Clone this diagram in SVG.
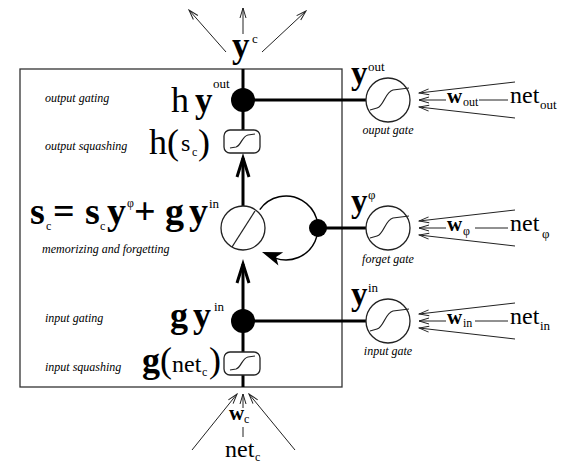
<svg xmlns="http://www.w3.org/2000/svg" width="563" height="469" viewBox="0 0 563 469">
<defs>
<style>
.t{font-family:"Liberation Serif","Times New Roman",serif;fill:#000}
.b{font-weight:bold}
.lab{font-family:"Liberation Serif","Times New Roman",serif;font-style:italic;font-size:12px;fill:#000}
.thin{stroke:#222;stroke-width:1;fill:none}
.thick{stroke:#000;stroke-width:3;fill:none}
.ol{stroke:#222;stroke-width:1.3;fill:#fff}
.sig{stroke:#222;stroke-width:1.2;fill:none}
</style>
<marker id="open" markerWidth="12" markerHeight="8" refX="11" refY="4" orient="auto" markerUnits="userSpaceOnUse">
<path d="M1,1 L11,4 L1,7" fill="none" stroke="#222" stroke-width="1"/>
</marker>
</defs>
<rect width="563" height="469" fill="#fff"/>

<g id="cell-box">
<rect x="20" y="69" width="322" height="318" fill="none" stroke="#333" stroke-width="1.3"/>
</g>

<g id="connectors">
<line class="thick" x1="243" y1="69" x2="243" y2="130"/>
<line class="thick" x1="243" y1="158" x2="243" y2="206"/>
<path class="thick" d="M237,177 L243,158 L249,177" stroke-width="2.5"/>
<line class="thick" x1="243" y1="264" x2="243" y2="352"/>
<path class="thick" d="M237,283 L243,264 L249,283" stroke-width="2.5"/>
<line class="thick" x1="243" y1="375" x2="243" y2="387"/>
<line class="thick" x1="243" y1="100" x2="366" y2="100"/>
<line class="thick" x1="318" y1="228" x2="366" y2="228"/>
<line class="thick" x1="243" y1="321" x2="366" y2="321"/>
<path d="M259.8,209.6 A32,32 0 1 1 275.1,258.1" fill="none" stroke="#000" stroke-width="1.5"/>
<path d="M262,252 L283.2,252.2 L276.1,257.1 L278.4,265.4 Z" fill="#000"/>
<line class="thin" x1="243" y1="34" x2="243" y2="8" marker-end="url(#open)"/>
<line class="thin" x1="226" y1="52" x2="189" y2="10" marker-end="url(#open)"/>
<line class="thin" x1="262" y1="52" x2="306" y2="11" marker-end="url(#open)"/>
<line class="thin" x1="243" y1="408" x2="243" y2="394" marker-end="url(#open)"/>
<line class="thin" x1="192" y1="450" x2="237" y2="394" marker-end="url(#open)"/>
<line class="thin" x1="295" y1="450" x2="249" y2="394" marker-end="url(#open)"/>
<line class="thin" x1="243" y1="427" x2="243" y2="437"/>
<line class="thin" x1="515" y1="82" x2="419" y2="93" marker-end="url(#open)"/>
<line class="thin" x1="446" y1="100" x2="419" y2="100" marker-end="url(#open)"/>
<line class="thin" x1="479" y1="100" x2="508" y2="100"/>
<line class="thin" x1="515" y1="118" x2="419" y2="107" marker-end="url(#open)"/>
<line class="thin" x1="515" y1="210" x2="419" y2="221" marker-end="url(#open)"/>
<line class="thin" x1="446" y1="228" x2="419" y2="228" marker-end="url(#open)"/>
<line class="thin" x1="475" y1="228" x2="508" y2="228"/>
<line class="thin" x1="515" y1="246" x2="419" y2="235" marker-end="url(#open)"/>
<line class="thin" x1="515" y1="303" x2="419" y2="314" marker-end="url(#open)"/>
<line class="thin" x1="446" y1="321" x2="419" y2="321" marker-end="url(#open)"/>
<line class="thin" x1="475" y1="321" x2="508" y2="321"/>
<line class="thin" x1="515" y1="339" x2="419" y2="328" marker-end="url(#open)"/>
</g>

<g id="output-gating">
<circle cx="243" cy="100" r="12" fill="#000"/>
<text class="t" x="171" y="112" font-size="36">h</text>
<text class="t b" x="195" y="112" font-size="35">y</text>
<text class="t" x="213" y="88" font-size="13">out</text>
<text class="lab" x="45" y="102">output gating</text>
</g>

<g id="output-squashing">
<rect class="ol" x="224" y="130" width="36" height="23" rx="6"/>
<path class="sig" d="M230,148 L236,147 C241,146 242,136 248,135 L255,134"/>
<text class="t" x="149" y="154" font-size="36">h(</text>
<text class="t" x="181" y="151" font-size="24">s</text>
<text class="t" x="192" y="156" font-size="12">c</text>
<text class="t" x="198" y="154" font-size="36">)</text>
<text class="lab" x="45" y="150">output squashing</text>
</g>

<g id="memory">
<circle class="ol" cx="243" cy="228" r="22"/>
<line x1="232" y1="247" x2="255" y2="211" stroke="#222" stroke-width="1.3"/>
<circle cx="318" cy="228" r="9" fill="#000"/>
<text class="t b" x="30" y="224" font-size="38">s</text>
<text class="t" x="46" y="230" font-size="12">c</text>
<text class="t b" x="53" y="224" font-size="38">=</text>
<text class="t b" x="85" y="224" font-size="38">s</text>
<text class="t" x="100" y="230" font-size="12">c</text>
<text class="t b" x="107" y="224" font-size="38">y</text>
<text class="t" x="127" y="207" font-size="12">φ</text>
<text class="t b" x="134" y="224" font-size="38">+</text>
<text class="t b" x="165" y="224" font-size="38">g</text>
<text class="t b" x="189" y="224" font-size="38">y</text>
<text class="t" x="209" y="208" font-size="13">in</text>
<text class="lab" x="42" y="253">memorizing and forgetting</text>
</g>

<g id="input-gating">
<circle cx="243" cy="321" r="12" fill="#000"/>
<text class="t b" x="170" y="327" font-size="36">g</text>
<text class="t b" x="193" y="327" font-size="36">y</text>
<text class="t" x="214" y="311" font-size="13">in</text>
<text class="lab" x="45" y="322">input gating</text>
</g>

<g id="input-squashing">
<rect class="ol" x="224" y="352" width="36" height="23" rx="6"/>
<path class="sig" d="M230,370 L236,369 C241,368 242,358 248,357 L255,356"/>
<text class="t b" x="142" y="372" font-size="36">g</text>
<text class="t" x="160" y="372" font-size="36">(</text>
<text class="t" x="172" y="372" font-size="24">net</text>
<text class="t" x="202" y="376" font-size="12">c</text>
<text class="t" x="209" y="372" font-size="36">)</text>
<text class="lab" x="45" y="371">input squashing</text>
</g>

<g id="cell-output">
<text class="t b" x="232" y="57" font-size="35">y</text>
<text class="t" x="252" y="43" font-size="13">c</text>
</g>

<g id="cell-input">
<text class="t b" x="229" y="420" font-size="21">w</text>
<text class="t" x="244" y="423" font-size="12">c</text>
<text class="t" x="225" y="457" font-size="24">net</text>
<text class="t" x="255" y="461" font-size="12">c</text>
</g>

<g id="output-gate">
<circle class="ol" cx="388" cy="100" r="22"/>
<path class="sig" d="M370,110 L377,108 C384,106 385,92 393,90 L409,88"/>
<text class="t b" x="351" y="84" font-size="33">y</text>
<text class="t" x="368" y="71" font-size="13">out</text>
<text class="lab" x="388" y="134" text-anchor="middle">ouput gate</text>
<text class="t b" x="447" y="103" font-size="21">w</text>
<text class="t" x="463" y="106" font-size="12">out</text>
<text class="t" x="510" y="103" font-size="24">net</text>
<text class="t" x="540" y="109" font-size="13">out</text>
</g>

<g id="forget-gate">
<circle class="ol" cx="388" cy="228" r="22"/>
<path class="sig" d="M370,238 L377,236 C384,234 385,220 393,218 L409,216"/>
<text class="t b" x="351" y="212" font-size="33">y</text>
<text class="t" x="368" y="199" font-size="13">φ</text>
<text class="lab" x="388" y="263" text-anchor="middle">forget gate</text>
<text class="t b" x="447" y="231" font-size="21">w</text>
<text class="t" x="463" y="235" font-size="12">φ</text>
<text class="t" x="510" y="231" font-size="24">net</text>
<text class="t" x="542" y="238" font-size="13">φ</text>
</g>

<g id="input-gate">
<circle class="ol" cx="388" cy="321" r="22"/>
<path class="sig" d="M370,331 L377,329 C384,327 385,313 393,311 L409,309"/>
<text class="t b" x="351" y="305" font-size="33">y</text>
<text class="t" x="368" y="292" font-size="13">in</text>
<text class="lab" x="388" y="355" text-anchor="middle">input gate</text>
<text class="t b" x="447" y="324" font-size="21">w</text>
<text class="t" x="463" y="327" font-size="12">in</text>
<text class="t" x="510" y="324" font-size="24">net</text>
<text class="t" x="540" y="330" font-size="13">in</text>
</g>
</svg>
